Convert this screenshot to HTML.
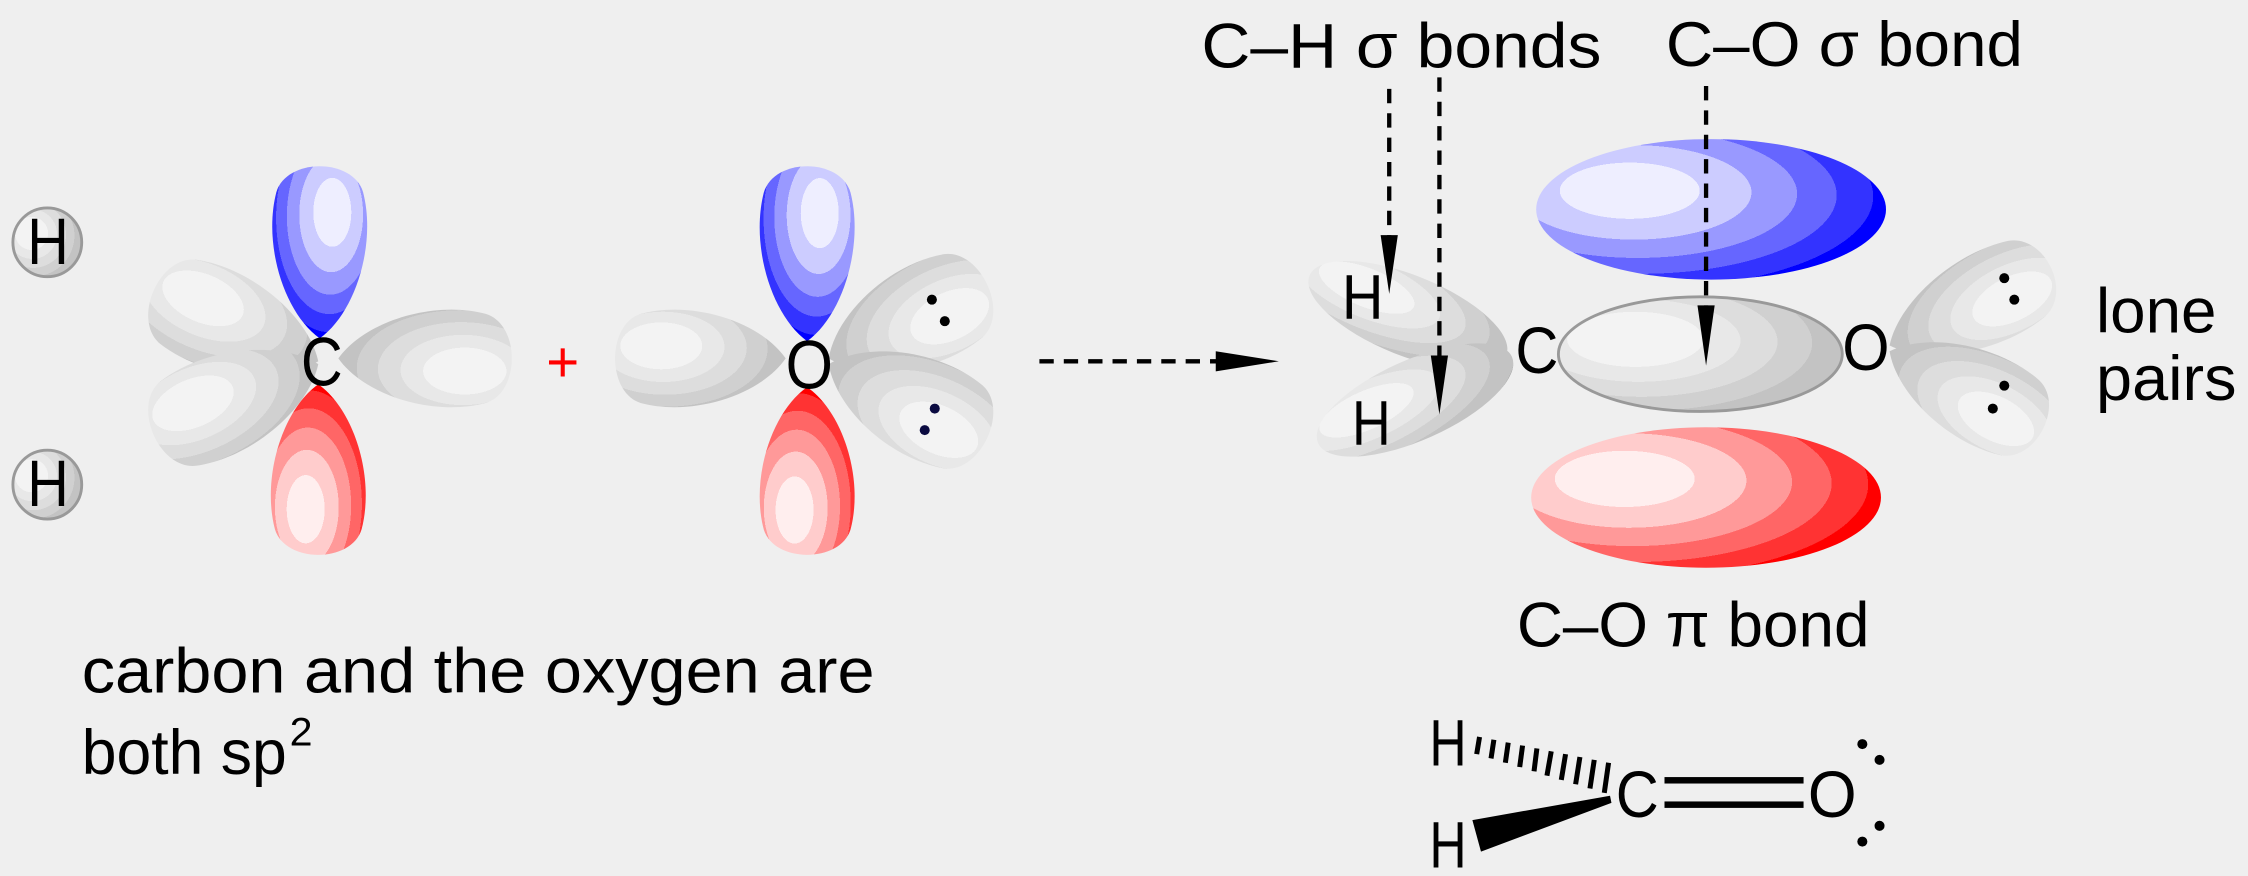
<!DOCTYPE html>
<html><head><meta charset="utf-8"><style>
html,body{margin:0;padding:0;background:#efefef;}
svg{display:block;}
text{font-family:"Liberation Sans",Arial,sans-serif;fill:#000;}
</style></head><body>
<svg width="2248" height="876" viewBox="0 0 1568 611" preserveAspectRatio="none" xmlns="http://www.w3.org/2000/svg">
<defs>
<radialGradient id="gg" cx="0.32" cy="0.42" r="0.8" fx="0.25" fy="0.35">
<stop offset="0" stop-color="#f3f3f3"/><stop offset="0.3" stop-color="#f3f3f3"/>
<stop offset="0.3" stop-color="#e8e8e8"/><stop offset="0.45" stop-color="#e8e8e8"/>
<stop offset="0.45" stop-color="#dddddd"/><stop offset="0.6" stop-color="#dddddd"/>
<stop offset="0.6" stop-color="#d0d0d0"/><stop offset="0.74" stop-color="#d0d0d0"/>
<stop offset="0.74" stop-color="#c3c3c3"/><stop offset="0.88" stop-color="#c3c3c3"/>
<stop offset="0.88" stop-color="#aaaaaa"/><stop offset="1" stop-color="#aaaaaa"/>
</radialGradient>
<radialGradient id="gb" cx="0.32" cy="0.42" r="0.8" fx="0.25" fy="0.35">
<stop offset="0" stop-color="#eeeeff"/><stop offset="0.25" stop-color="#eeeeff"/>
<stop offset="0.25" stop-color="#ccccff"/><stop offset="0.42" stop-color="#ccccff"/>
<stop offset="0.42" stop-color="#9999ff"/><stop offset="0.57" stop-color="#9999ff"/>
<stop offset="0.57" stop-color="#6666ff"/><stop offset="0.7" stop-color="#6666ff"/>
<stop offset="0.7" stop-color="#3333ff"/><stop offset="0.82" stop-color="#3333ff"/>
<stop offset="0.82" stop-color="#0000ff"/><stop offset="1" stop-color="#0000ff"/>
</radialGradient>
<radialGradient id="gr" cx="0.32" cy="0.42" r="0.8" fx="0.25" fy="0.35">
<stop offset="0" stop-color="#ffeeee"/><stop offset="0.25" stop-color="#ffeeee"/>
<stop offset="0.25" stop-color="#ffcccc"/><stop offset="0.42" stop-color="#ffcccc"/>
<stop offset="0.42" stop-color="#ff9999"/><stop offset="0.57" stop-color="#ff9999"/>
<stop offset="0.57" stop-color="#ff6666"/><stop offset="0.7" stop-color="#ff6666"/>
<stop offset="0.7" stop-color="#ff3333"/><stop offset="0.82" stop-color="#ff3333"/>
<stop offset="0.82" stop-color="#ff0000"/><stop offset="1" stop-color="#ff0000"/>
</radialGradient>
<path id="lobe" d="M0,0 C-0.15,-0.35 -0.55,-0.55 -0.85,-0.42 C-1.05,-0.32 -1.05,0.32 -0.85,0.42 C-0.55,0.55 -0.15,0.35 0,0Z"/>
</defs>

<!-- H atoms -->
<circle cx="33" cy="169" r="24" fill="url(#gg)" stroke="#999" stroke-width="2"/>
<circle cx="33" cy="338" r="24" fill="url(#gg)" stroke="#999" stroke-width="2"/>
<text x="19" y="184" font-size="46" textLength="29" lengthAdjust="spacingAndGlyphs">H</text>
<text x="19" y="353" font-size="46" textLength="29" lengthAdjust="spacingAndGlyphs">H</text>

<!-- Carbon sp2 -->
<use href="#lobe" fill="url(#gg)" transform="translate(222,252) rotate(23) scale(125,76)"/>
<use href="#lobe" fill="url(#gg)" transform="translate(222,254) rotate(-23) scale(125,76)"/>
<use href="#lobe" fill="url(#gg)" transform="translate(236,250) rotate(180) scale(121,74)"/>
<use href="#lobe" fill="url(#gb)" transform="translate(223,236) rotate(90) scale(120,72)"/>
<use href="#lobe" fill="url(#gr)" transform="translate(222,268) rotate(-90) scale(119,72)"/>
<text x="210" y="269" font-size="48" textLength="29" lengthAdjust="spacingAndGlyphs">C</text>

<text x="381" y="266" font-size="40" style="fill:#f00" textLength="23" lengthAdjust="spacingAndGlyphs">+</text>

<!-- Oxygen sp2 -->
<use href="#lobe" fill="url(#gg)" transform="translate(548,250) scale(119,74)"/>
<use href="#lobe" fill="url(#gg)" transform="translate(578,250) rotate(155) scale(122,76)"/>
<use href="#lobe" fill="url(#gg)" transform="translate(578,254) rotate(205) scale(122,76)"/>
<use href="#lobe" fill="url(#gb)" transform="translate(563,238) rotate(90) scale(122,72)"/>
<use href="#lobe" fill="url(#gr)" transform="translate(563,270) rotate(-90) scale(117,72)"/>
<text x="548" y="271" font-size="48" textLength="33" lengthAdjust="spacingAndGlyphs">O</text>
<circle cx="650" cy="209" r="3.5" fill="#000"/><circle cx="659" cy="224" r="3.5" fill="#000"/>
<circle cx="652" cy="285" r="3.5" fill="#0a0a40"/><circle cx="645" cy="300" r="3.5" fill="#0a0a40"/>

<!-- main arrow -->
<line x1="725" y1="252" x2="852" y2="252" stroke="#000" stroke-width="3" stroke-dasharray="10,7"/>
<polygon points="848,245 848,259 892,252" fill="#000"/>

<!-- Formaldehyde MOs -->
<ellipse cx="1193.5" cy="146" rx="122" ry="49" fill="url(#gb)"/>
<ellipse cx="1190" cy="347" rx="122" ry="49" fill="url(#gr)"/>
<ellipse cx="1186" cy="247" rx="99" ry="40" fill="url(#gg)" stroke="#999" stroke-width="2"/>
<ellipse cx="982" cy="220" rx="74" ry="28" fill="url(#gg)" transform="rotate(22 982 220)"/>
<ellipse cx="987" cy="279" rx="74" ry="28" fill="url(#gg)" transform="rotate(-24 987 279)"/>
<use href="#lobe" fill="url(#gg)" transform="translate(1318,241) rotate(154) scale(125,70)"/>
<use href="#lobe" fill="url(#gg)" transform="translate(1318,245) rotate(207) scale(120,70)"/>
<circle cx="1398" cy="194" r="3.5" fill="#000"/><circle cx="1405" cy="209" r="3.5" fill="#000"/>
<circle cx="1398" cy="269" r="3.5" fill="#000"/><circle cx="1390" cy="285" r="3.5" fill="#000"/>
<text x="1057" y="260" font-size="46" textLength="30" lengthAdjust="spacingAndGlyphs">C</text>
<text x="1285" y="258" font-size="46" textLength="33" lengthAdjust="spacingAndGlyphs">O</text>
<text x="936" y="222" font-size="44" textLength="29" lengthAdjust="spacingAndGlyphs">H</text>
<text x="943" y="310" font-size="44" textLength="27" lengthAdjust="spacingAndGlyphs">H</text>

<!-- dashed pointers -->
<g stroke="#000" stroke-width="3" stroke-dasharray="10,7" fill="none">
<line x1="969" y1="62" x2="969" y2="170"/>
<line x1="1004" y1="54" x2="1004" y2="250"/>
<line x1="1190" y1="60" x2="1190" y2="216"/>
</g>
<polygon points="963,164 975,164 969,205" fill="#000"/>
<polygon points="998,248 1010,248 1004,289" fill="#000"/>
<polygon points="1184,213 1196,213 1190,255" fill="#000"/>

<!-- labels -->
<text x="838" y="47" font-size="44" textLength="279" lengthAdjust="spacingAndGlyphs">C–H σ bonds</text>
<text x="1162" y="46" font-size="44" textLength="249" lengthAdjust="spacingAndGlyphs">C–O σ bond</text>
<text x="1462" y="232" font-size="44" textLength="84" lengthAdjust="spacingAndGlyphs">lone</text>
<text x="1462" y="279" font-size="44" textLength="98" lengthAdjust="spacingAndGlyphs">pairs</text>
<text x="1058" y="451" font-size="44" textLength="246" lengthAdjust="spacingAndGlyphs">C–O π bond</text>
<text x="57" y="483" font-size="44" textLength="553" lengthAdjust="spacingAndGlyphs">carbon and the oxygen are</text>
<text x="57" y="540" font-size="44" textLength="143" lengthAdjust="spacingAndGlyphs">both sp</text>
<text x="202" y="520" font-size="28" textLength="16" lengthAdjust="spacingAndGlyphs">2</text>

<!-- bottom structure -->
<text x="997" y="534" font-size="46" textLength="26" lengthAdjust="spacingAndGlyphs">H</text>
<text x="997" y="605" font-size="46" textLength="26" lengthAdjust="spacingAndGlyphs">H</text>
<text x="1127" y="570" font-size="46" textLength="30" lengthAdjust="spacingAndGlyphs">C</text>
<text x="1261" y="570" font-size="46" textLength="34" lengthAdjust="spacingAndGlyphs">O</text>
<rect x="1161" y="542" width="97" height="4.5" fill="#000"/>
<rect x="1161" y="559" width="97" height="4.5" fill="#000"/>
<g stroke="#000" stroke-width="3.5">
<line x1="1032" y1="514" x2="1030" y2="526"/>
<line x1="1042" y1="516" x2="1040" y2="529"/>
<line x1="1052" y1="518" x2="1050" y2="532"/>
<line x1="1062" y1="520" x2="1060" y2="535"/>
<line x1="1072" y1="522" x2="1070" y2="538"/>
<line x1="1082" y1="524" x2="1079" y2="541"/>
<line x1="1092" y1="526" x2="1089" y2="544"/>
<line x1="1102" y1="528" x2="1099" y2="547"/>
<line x1="1112" y1="530" x2="1109" y2="550"/>
<line x1="1122" y1="532" x2="1119" y2="553"/>
</g>
<polygon points="1027,572 1033,594 1124,560 1123,555" fill="#000"/>
<circle cx="1299" cy="519" r="3.5" fill="#000"/><circle cx="1311" cy="530" r="3.5" fill="#000"/>
<circle cx="1311" cy="576" r="3.5" fill="#000"/><circle cx="1299" cy="587" r="3.5" fill="#000"/>
</svg>
</body></html>
